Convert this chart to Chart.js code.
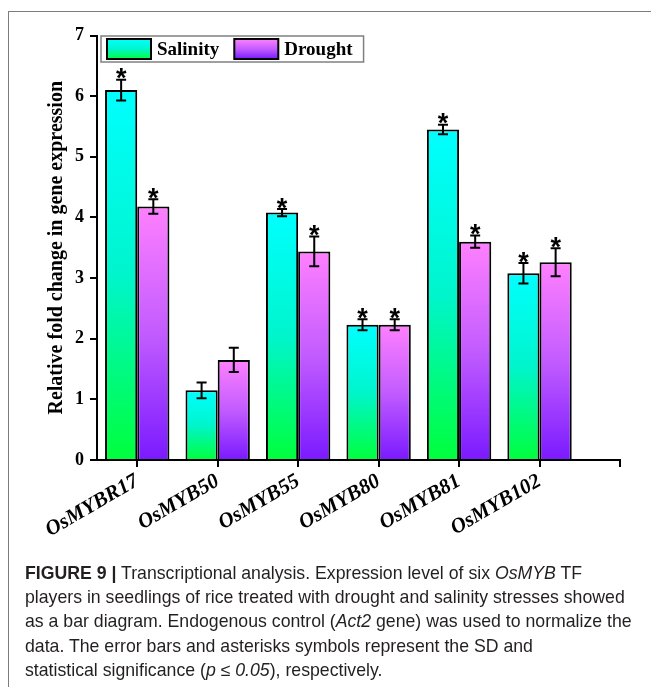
<!DOCTYPE html>
<html>
<head>
<meta charset="utf-8">
<script src="https://cdn.jsdelivr.net/npm/chart.js@4/dist/chart.umd.min.js"></script>
<style>
  html, body { margin: 0; padding: 0; background: #fff; }
  #wrap { position: relative; width: 651px; height: 687px; overflow: hidden; }
  #frame { position: absolute; left: 8px; top: 11px; width: 700px; height: 700px;
           border-top: 1.5px solid #7d7d7d; border-left: 1.5px solid #7d7d7d; }
  canvas { position: absolute; left: 0; top: 0; }
  #caption { position: absolute; left: 25px; top: 561px; white-space: nowrap;
             font-family: "Liberation Sans", Arial, sans-serif; font-size: 17.7px;
             line-height: 24.2px; color: #231f20; }
  #caption b { font-weight: bold; }
</style>
</head>
<body>
<div id="wrap">
  <div id="frame"></div>
  <canvas id="chart" width="651" height="687"></canvas>
  <div id="caption">
    <b>FIGURE 9 |</b> Transcriptional analysis. Expression level of six <i>OsMYB</i> TF<br>
    players in seedlings of rice treated with drought and salinity stresses showed<br>
    as a bar diagram. Endogenous control (<i>Act2</i> gene) was used to normalize the<br>
    data. The error bars and asterisks symbols represent the SD and<br>
    statistical significance (<i>p</i> ≤ <i>0.05</i>), respectively.
  </div>
</div>
<script>
// Genes and relative expression (mean ± SD) under each stress
const genes = ['OsMYBR17', 'OsMYB50', 'OsMYB55', 'OsMYB80', 'OsMYB81', 'OsMYB102'];
const salinity = [6.10, 1.15, 4.08, 2.23, 5.45, 3.08];
const salinitySD = [0.17, 0.13, 0.06, 0.09, 0.08, 0.17];
const drought = [4.18, 1.65, 3.44, 2.23, 3.60, 3.26];
const droughtSD = [0.12, 0.20, 0.245, 0.09, 0.10, 0.23];
// significant at p <= 0.05
const salinitySig = [true, false, true, true, true, true];
const droughtSig = [true, false, true, true, true, true];
const seriesNames = ['Salinity', 'Drought'];
const yMin = 0, yMax = 7, yStep = 1;

const serif = '"Liberation Serif", "Times New Roman", serif';

// vertical colour ramps (top -> bottom of each bar)
const ramps = [
  ['#00ffff', '#00f5cc', '#00ff3c'],
  ['#ff80ff', '#c25cff', '#7a1aff']
];

function rampGradient(ctx, top, bottom, stops) {
  const g = ctx.createLinearGradient(0, top, 0, bottom);
  g.addColorStop(0, stops[0]);
  g.addColorStop(0.5, stops[1]);
  g.addColorStop(1, stops[2]);
  return g;
}

function barFill(stops) {
  return (c) => {
    const chart = c.chart;
    if (!chart.chartArea || c.type !== 'data' || !c.parsed) return stops[1];
    const ys = chart.scales.y;
    return rampGradient(chart.ctx, ys.getPixelForValue(c.parsed.y), ys.getPixelForValue(0), stops);
  };
}

const toPoints = (vals) => vals.map((v, i) => ({ x: i + 1, y: v }));

// error bars + significance asterisks
const errorPlugin = {
  id: 'errorBars',
  afterDatasetsDraw(chart) {
    const ctx = chart.ctx;
    const ys = chart.scales.y;
    const sds = [salinitySD, droughtSD];
    const sig = [salinitySig, droughtSig];
    ctx.save();
    ctx.strokeStyle = '#000';
    ctx.fillStyle = '#000';
    ctx.lineWidth = 2;
    chart.data.datasets.forEach((ds, di) => {
      const meta = chart.getDatasetMeta(di);
      meta.data.forEach((bar, i) => {
        const v = ds.data[i].y;
        const sd = sds[di][i];
        const x = bar.x;
        const yHi = ys.getPixelForValue(v + sd);
        const yLo = ys.getPixelForValue(v - sd);
        const cap = 5;
        ctx.beginPath();
        ctx.moveTo(x, yHi); ctx.lineTo(x, yLo);
        ctx.moveTo(x - cap, yHi); ctx.lineTo(x + cap, yHi);
        ctx.moveTo(x - cap, yLo); ctx.lineTo(x + cap, yLo);
        ctx.stroke();
        if (sig[di][i]) {
          const fs = 27;
          ctx.font = 'bold ' + fs + 'px "Liberation Sans", Arial, sans-serif';
          ctx.textAlign = 'center';
          ctx.textBaseline = 'alphabetic';
          ctx.fillText('*', x, yHi - 8 + 0.58 * fs);
        }
      });
    });
    ctx.restore();
  }
};

// boxed legend in the upper-left of the plot
const legendPlugin = {
  id: 'boxLegend',
  afterDraw(chart) {
    const ctx = chart.ctx;
    const area = chart.chartArea;
    const x0 = area.left + 4, y0 = area.top + 0.5, h = 26;
    const sw = 44, sh = 20;
    ctx.save();
    ctx.font = 'bold 19px ' + serif;
    let x = x0 + 6;
    const items = [];
    chart.data.datasets.forEach((ds, di) => {
      const tw = ctx.measureText(ds.label).width;
      items.push({ sx: x, tx: x + sw + 6, label: ds.label, di });
      x = x + sw + 6 + tw + 15;
    });
    const w = x - 15 + 11 - x0;
    ctx.fillStyle = '#fff';
    ctx.fillRect(x0, y0, w, h);
    ctx.strokeStyle = '#808080';
    ctx.lineWidth = 1.5;
    ctx.strokeRect(x0, y0, w, h);
    items.forEach((it) => {
      const sy = y0 + (h - sh) / 2;
      ctx.fillStyle = rampGradient(ctx, sy, sy + sh, ramps[it.di]);
      ctx.fillRect(it.sx, sy, sw, sh);
      ctx.strokeStyle = '#000';
      ctx.lineWidth = 2;
      ctx.strokeRect(it.sx, sy, sw, sh);
      ctx.fillStyle = '#000';
      ctx.textAlign = 'left';
      ctx.textBaseline = 'middle';
      ctx.fillText(it.label, it.tx, y0 + h / 2 + 1);
    });
    ctx.restore();
  }
};

new Chart(document.getElementById('chart'), {
  type: 'bar',
  data: {
    datasets: [
      { label: seriesNames[0], data: toPoints(salinity), backgroundColor: barFill(ramps[0]),
        borderColor: '#000', borderWidth: 2, categoryPercentage: 0.8, barPercentage: 1.0 },
      { label: seriesNames[1], data: toPoints(drought), backgroundColor: barFill(ramps[1]),
        borderColor: '#000', borderWidth: 2, categoryPercentage: 0.8, barPercentage: 1.0 }
    ]
  },
  options: {
    responsive: false,
    animation: false,
    layout: { padding: { left: 0, top: 35.5, right: 31, bottom: 0 } },
    plugins: { legend: { display: false }, tooltip: { enabled: false } },
    scales: {
      x: {
        type: 'linear',
        min: 0.5,
        max: genes.length + 1,
        offset: false,
        grid: { drawOnChartArea: false, drawTicks: true, tickLength: 7, color: '#000', lineWidth: 2, offset: false },
        border: { display: true, color: '#000', width: 2 },
        afterBuildTicks: (s) => {
          s.ticks = genes.map((g, i) => ({ value: i + 1 })).concat([{ value: genes.length + 1 }]);
        },
        afterFit: (s) => { s.height = 227; },
        ticks: {
          autoSkip: false, minRotation: 30, maxRotation: 30, padding: 2, color: '#000',
          font: { family: serif, size: 21, weight: 'bold', style: 'italic' },
          callback: (v) => genes[v - 1] || ''
        }
      },
      y: {
        min: yMin, max: yMax,
        grid: { drawOnChartArea: false, drawTicks: true, tickLength: 7, color: '#000', lineWidth: 2 },
        border: { display: true, color: '#000', width: 2 },
        ticks: { stepSize: yStep, padding: 6, color: '#000', font: { family: serif, size: 18, weight: 'bold' } },
        title: {
          display: true, text: 'Relative fold change in gene expression', color: '#000',
          font: { family: serif, size: 20, weight: 'bold' }, padding: { top: 45, bottom: 0 }
        },
        afterFit: (s) => { s.width = 97; }
      }
    }
  },
  plugins: [errorPlugin, legendPlugin]
});
</script>
</body>
</html>
